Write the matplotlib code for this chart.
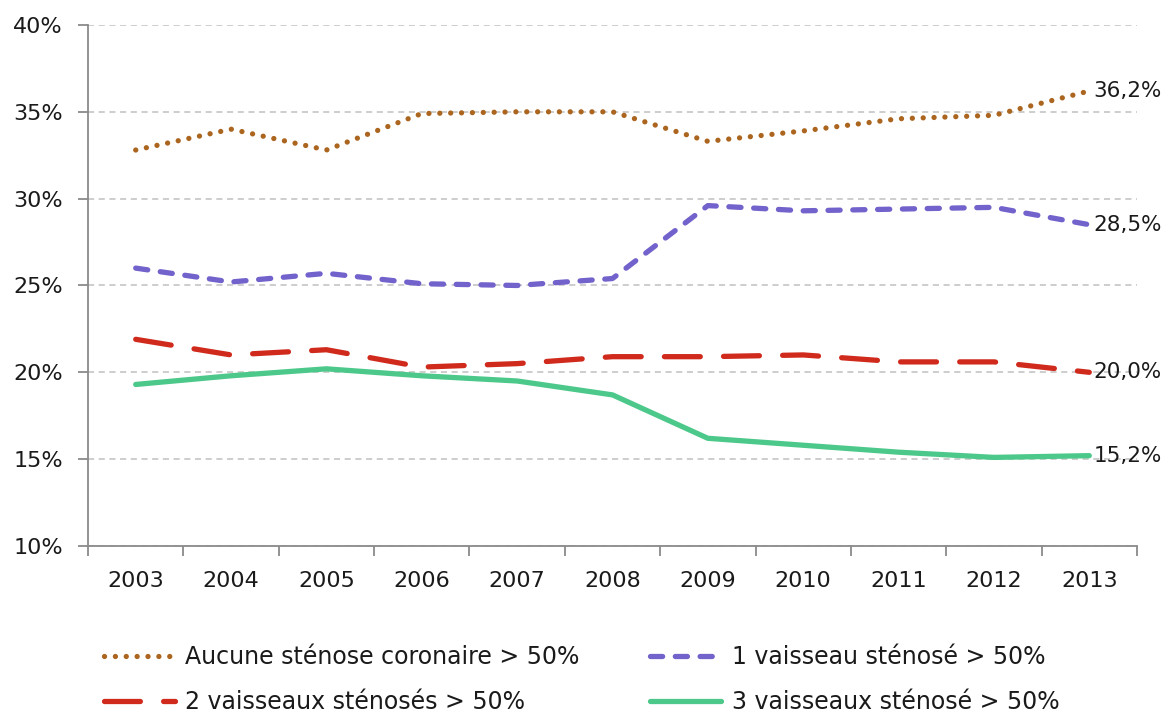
import matplotlib
matplotlib.use("Agg")
import matplotlib.pyplot as plt
import numpy as np

years = ["2003", "2004", "2005", "2006", "2007", "2008", "2009", "2010", "2011", "2012", "2013"]
aucune = [32.8, 34.0, 32.8, 34.9, 35.0, 35.0, 33.3, 33.9, 34.6, 34.8, 36.2]
v1 = [26.0, 25.2, 25.7, 25.1, 25.0, 25.4, 29.6, 29.3, 29.4, 29.5, 28.5]
v2 = [21.9, 21.0, 21.3, 20.3, 20.5, 20.9, 20.9, 21.0, 20.6, 20.6, 20.0]
v3 = [19.3, 19.8, 20.2, 19.8, 19.5, 18.7, 16.2, 15.8, 15.4, 15.1, 15.2]
end_labels = ["36,2%", "28,5%", "20,0%", "15,2%"]
series_names = ["Aucune sténose coronaire > 50%", "1 vaisseau sténosé > 50%",
                "2 vaisseaux sténosés > 50%", "3 vaisseaux sténosé > 50%"]
yticks = [10, 15, 20, 25, 30, 35, 40]

plt.rcParams['font.family'] = ['DejaVu Sans']
fig = plt.figure(figsize=(11.66, 7.18), dpi=100)
ax = fig.add_axes([0.0755, 0.2396, 0.8996, 0.7256])

x = np.arange(len(years))
colors = ["#AB651F", "#7262CB", "#D02A1C", "#4CC88A"]
styles = [
    dict(lw=3.8, dashes=(0.01, 2.05)),
    dict(lw=3.8, dashes=(2.3, 2.4)),
    dict(lw=3.8, dashes=(6.8, 4.4)),
    dict(lw=3.8, ls='-'),
]
handles = []
for vals, c, st, name in zip([aucune, v1, v2, v3], colors, styles, series_names):
    kw = dict(color=c, lw=st['lw'], solid_capstyle='round', dash_capstyle='round', zorder=3)
    if 'dashes' in st:
        kw['dashes'] = st['dashes']
    h, = ax.plot(x, vals, label=name, **kw)
    handles.append(h)

for vals, lab in zip([aucune, v1, v2, v3], end_labels):
    ax.annotate(lab, (x[-1], vals[-1]), xytext=(3, 0), textcoords='offset points',
                ha='left', va='center', fontsize=15.5, color='#1a1a1a')

ax.set_xlim(-0.5, len(years) - 0.5)
ax.set_ylim(10, 40)
ax.set_yticks(yticks)
ax.set_yticklabels([f"{v}%" for v in yticks])
ax.set_xticks(x)
ax.set_xticklabels(years)
ax.set_xticks(np.arange(-0.5, len(years)), minor=True)
ax.tick_params(axis='x', which='major', length=0, pad=18, labelsize=16, labelcolor='#1a1a1a')
ax.tick_params(axis='x', which='minor', length=7, width=1.3, color='#8a8a8a', direction='out')
ax.tick_params(axis='y', length=7, width=1.3, color='#8a8a8a', pad=11, labelsize=16, labelcolor='#1a1a1a')

ax.yaxis.grid(True, color='#c0c0c0', lw=1.1, ls=(0, (4, 3)), zorder=0)
ax.set_axisbelow(True)
for s in ['top', 'right']:
    ax.spines[s].set_visible(False)
for s in ['left', 'bottom']:
    ax.spines[s].set_color('#8a8a8a')
    ax.spines[s].set_linewidth(1.3)

order = [0, 2, 1, 3]
leg = fig.legend([handles[i] for i in order], [series_names[i] for i in order],
                 loc='upper left', bbox_to_anchor=(0.089, 0.102), ncol=2, frameon=False,
                 fontsize=17, handlelength=3.0, handletextpad=0.45, columnspacing=3.0,
                 labelspacing=0.92, borderaxespad=0, borderpad=0)
for t in leg.get_texts():
    t.set_color('#1a1a1a')

fig.savefig("out.png", dpi=100)
